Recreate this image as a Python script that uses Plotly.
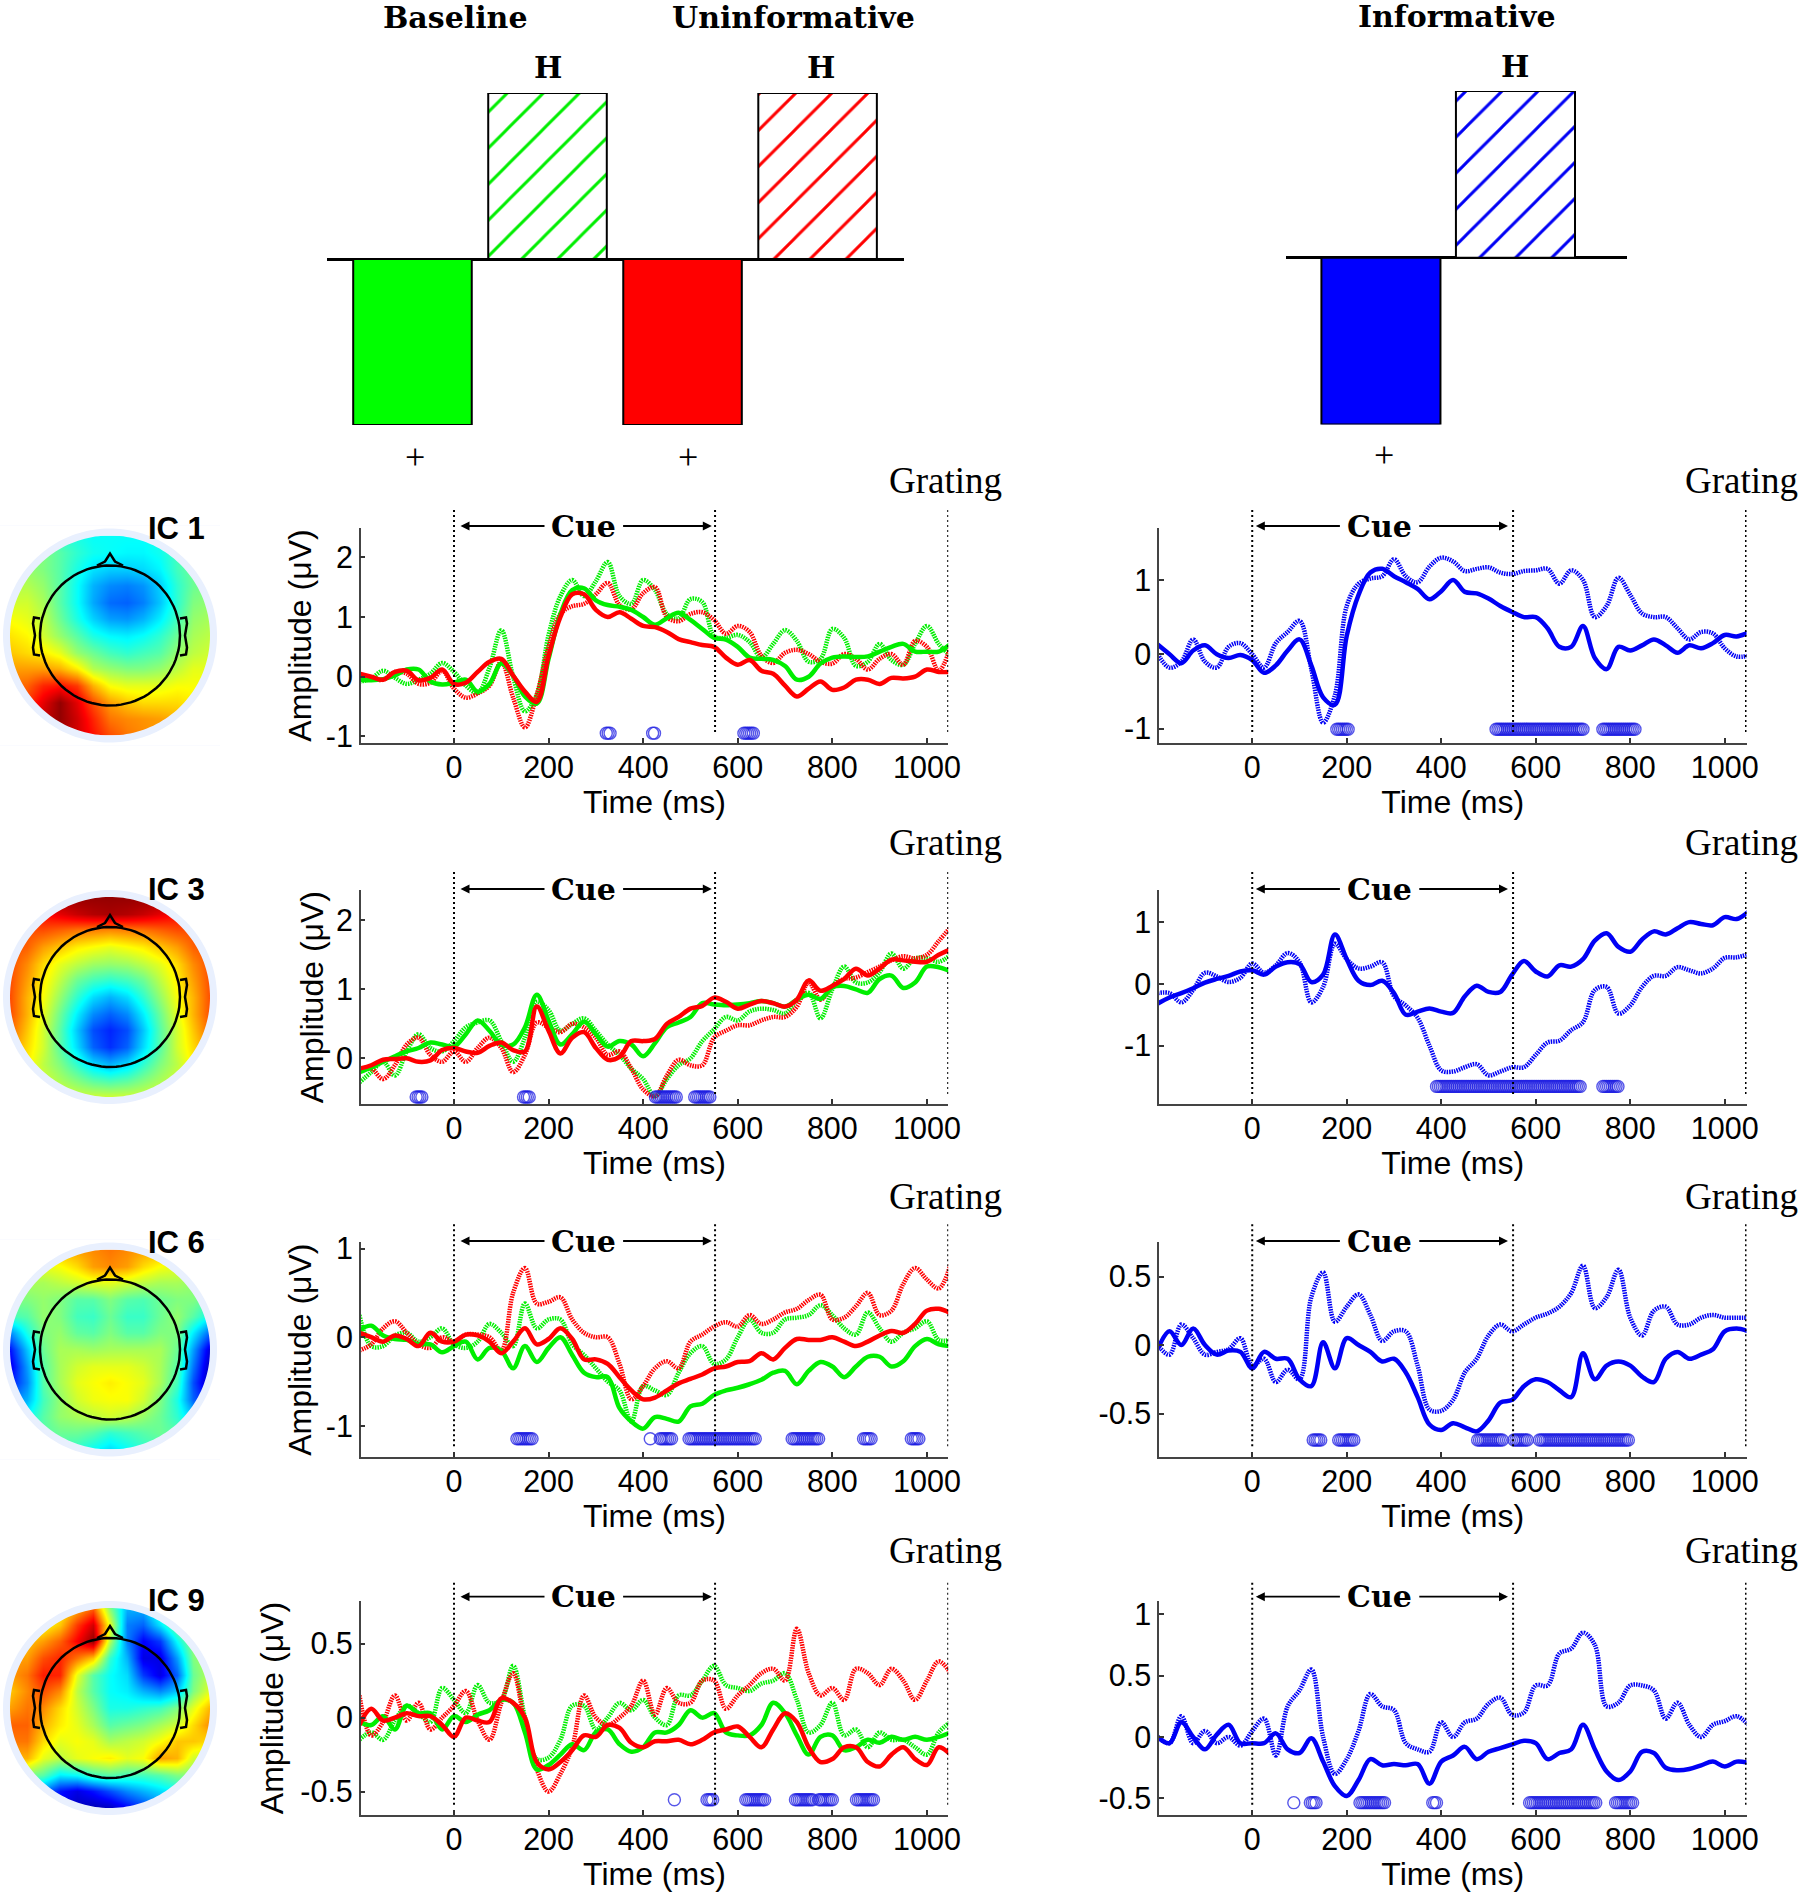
import numpy as np
import plotly.graph_objects as go

W, H = 1799, 1895

TIME = [-200, -175, -150, -125, -100, -75, -50, -25, 0, 25, 50, 75, 100, 125, 150, 175, 200, 225, 250, 275, 300, 325,
        350, 375, 400, 425, 450, 475, 500, 525, 550, 575, 600, 625, 650, 675, 700, 725, 750, 775, 800, 825, 850, 875,
        900, 925, 950, 975, 1000, 1025, 1050]

# --- IC 1 ---
IC1_GREEN = [-.05, -.06, -.04, .02, .12, .12, -.08, -.13, -.1, -.05, -.25, -.12, .22, .02, -.33, -.45, .3, 1.05, 1.45,
             1.48, 1.28, 1.2, 1.17, 1.12, 1.0, .87, .98, 1.07, .95, .8, .65, .62, .5, .32, .3, .28, .18, -.05, 0, .22,
             .32, .34, .33, .34, .42, .5, .55, .42, .42, .42, .55]
IC1_GREEN_DOT = [-.08, -.03, .1, -.02, -.12, -.05, .05, .23, .08, -.15, -.27, .15, .78, 0, -.58, -.3, .7, 1.35, 1.62,
                 1.35, 1.6, 1.92, 1.35, 1.22, 1.62, 1.45, 1.05, .98, 1.3, 1.25, .68, .65, .7, .58, .32, .55, .78, .6,
                 .25, .3, .8, .65, .18, .25, .55, .28, .2, .55, .85, .55, .35]
IC1_RED = [.05, 0, -.05, .08, .1, -.06, -.02, .12, -.12, -.1, .08, .25, .3, .02, -.25, -.42, .35, 1.0, 1.38, 1.38, 1.12,
           1.0, 1.08, .97, .85, .83, .75, .63, .58, .53, .5, .32, .2, .28, .1, .05, -.15, -.33, -.2, -.08, -.22, -.18,
           -.05, -.05, -.12, -.02, -.03, 0, .12, .08, .08]
IC1_RED_DOT = [0, -.03, -.05, .08, .05, -.12, -.1, .1, -.2, -.35, -.28, -.15, .25, -.35, -.85, -.3, .5, 1.05, 1.18, 1.22,
               1.38, 1.57, 1.2, 1.13, 1.4, 1.5, 1.0, .93, 1.05, 1.08, .95, .72, .85, .75, .35, .23, .4, .45, .38, .25,
               .22, .38, .3, .12, .3, .38, .2, .6, .5, .1, .5]
IC1_BLUE = [.13, 0, -.12, .05, .12, 0, -.05, -.01, -.08, -.25, -.15, .05, .2, -.15, -.58, -.68, .25, .8, 1.1, 1.15, 1.05,
            .97, .88, .74, .85, 1.0, .84, .82, .75, .65, .57, .5, .5, .35, .1, .1, .38, -.05, -.2, .1, .05, .12, .2,
            .12, .02, .12, .08, .15, .26, .24, .29]
IC1_BLUE_DOT = [0, -.18, -.1, .2, -.1, -.18, .1, .15, 0, -.18, .15, .3, .45, -.2, -.92, -.55, .65, .95, 1.02, 1.05, 1.28,
                1.05, .97, 1.18, 1.3, 1.25, 1.12, 1.15, 1.17, 1.1, 1.08, 1.12, 1.13, 1.15, .95, 1.13, 1.0, .5, .65,
                1.03, .8, .55, .5, .5, .35, .2, .3, .28, .08, -.03, -.02]

# --- IC 3 ---
IC3_GREEN = [-.2, -.13, -.05, .03, .1, .15, .23, .2, .17, .35, .55, .4, .2, .2, .45, .92, .55, .2, .35, .53, .35, .17,
             .25, .2, .03, .22, .45, .52, .6, .8, .78, .77, .78, .8, .83, .8, .75, .85, .92, .86, 1.03, 1.05, 1.0, .95,
             1.15, 1.2, 1.02, 1.1, 1.33, 1.32, 1.26]
IC3_GREEN_DOT = [-.35, -.2, -.05, -.25, .1, .35, .15, .1, .25, .45, .52, .55, .25, -.05, .3, .82, .7, .4, .5, .58, .4,
                 .2, .05, -.15, -.3, -.55, -.3, -.1, 0, .25, .42, .6, .55, .68, .72, .7, .65, .85, .95, .58, 1.0, 1.33,
                 1.1, 1.1, 1.25, 1.52, 1.3, 1.45, 1.45, 1.4, 1.5]
IC3_RED = [-.15, -.1, -.02, -.01, 0, -.05, -.03, .12, .15, .1, .08, .18, .23, .12, .1, .75, .4, .07, .3, .38, .15, -.02,
           .02, .25, .25, .28, .5, .6, .72, .76, .88, .82, .72, .78, .83, .8, .75, .85, 1.13, .98, 1.05, 1.15, 1.3, 1.2,
           1.3, 1.43, 1.42, 1.4, 1.4, 1.5, 1.58]
IC3_RED_DOT = [-.18, -.15, -.3, -.1, .2, .3, .05, -.05, .1, -.05, .15, .3, .15, -.2, .05, .52, .45, .38, .5, .45, .3,
               .05, .1, -.15, -.45, -.55, -.25, -.02, -.1, -.1, .3, .4, .48, .48, .55, .6, .6, .75, 1.1, .85, 1.05, 1.15,
               1.17, 1.25, 1.33, 1.42, 1.48, 1.45, 1.5, 1.7, 1.9]
IC3_BLUE = [-.32, -.22, -.15, -.07, .02, .08, .13, .2, .22, .15, .28, .35, .32, .03, .15, .8, .4, .05, -.02, .05, -.15,
            -.5, -.45, -.4, -.45, -.47, -.2, -.03, -.13, -.13, .15, .37, .2, .12, .3, .28, .4, .7, .82, .6, .52, .72, .85,
            .8, .9, 1.0, .97, .95, 1.08, 1.05, 1.17]
IC3_BLUE_DOT = [-.15, -.15, -.3, -.1, .18, .12, .03, .1, .33, .18, .3, .5, .35, -.3, -.05, .65, .4, .25, .28, .35, -.2,
                -.35, -.55, -1.0, -1.4, -1.42, -1.35, -1.3, -1.48, -1.42, -1.35, -1.35, -1.15, -.95, -.92, -.75, -.62,
                -.1, -.05, -.48, -.35, -.05, .13, .13, .27, .22, .17, .25, .42, .43, .48]

# --- IC 6 ---
IC6_GREEN = [.08, .13, .02, -.02, -.03, -.08, -.08, -.17, -.1, -.05, -.25, -.12, -.15, -.35, -.1, -.28, -.12, 0, -.2,
             -.4, -.45, -.45, -.8, -.95, -1.03, -.9, -.92, -.95, -.78, -.75, -.65, -.6, -.57, -.53, -.48, -.4, -.38,
             -.53, -.38, -.28, -.33, -.45, -.33, -.22, -.22, -.33, -.27, -.1, -.02, -.08, -.1]
IC6_GREEN_DOT = [.25, -.1, -.1, .02, .05, -.05, 0, .1, -.08, -.12, -.05, .15, .05, -.1, .38, .1, .2, .2, -.08, -.2, -.35,
                 -.5, -.6, -.95, -.55, -.6, -.65, -.4, -.18, -.1, -.3, -.25, 0, .2, .05, .05, .2, .22, .25, .36, .25, .1,
                 .03, .28, .1, -.05, .05, .1, .18, -.03, -.03]
IC6_RED = [.05, 0, -.05, .02, -.02, -.1, .05, -.05, -.05, .03, .02, -.05, -.18, -.05, .1, -.08, -.02, .1, -.02, -.25,
           -.25, -.3, -.45, -.6, -.7, -.68, -.6, -.52, -.47, -.42, -.35, -.33, -.28, -.27, -.18, -.25, -.12, -.02, -.03,
           -.03, 0, -.05, -.1, -.05, .02, .07, .05, .15, .3, .32, .27]
IC6_RED_DOT = [-.15, -.08, .1, .18, .05, -.08, -.12, 0, -.05, .03, .03, 0, -.15, .5, .78, .38, .4, .45, .2, .05, 0, 0,
               -.3, -.7, -.55, -.35, -.27, -.35, -.05, .03, .12, .17, .12, .25, .15, .2, .28, .32, .42, .48, .2, .22,
               .35, .5, .25, .3, .6, .78, .65, .55, .82]
IC6_BLUE = [-.03, .1, 0, .12, 0, -.07, -.04, -.05, -.17, -.05, -.1, -.1, -.25, -.3, .02, -.17, .05, 0, -.05, -.12, -.1,
            -.2, -.38, -.58, -.62, -.57, -.6, -.63, -.55, -.42, -.4, -.3, -.25, -.27, -.33, -.38, -.06, -.25, -.15, -.12,
            -.15, -.23, -.27, -.1, -.05, -.1, -.07, -.03, .1, .12, .1]
IC6_BLUE_DOT = [0, -.07, .15, .05, -.07, -.05, -.03, .05, -.15, -.1, -.27, -.18, -.25, .35, .53, .17, .28, .37, .22, .03,
                .1, .1, -.15, -.47, -.48, -.4, -.2, -.1, .07, .15, .1, .15, .2, .23, .28, .38, .58, .27, .35, .55, .2,
                .07, .25, .28, .15, .15, .2, .22, .2, .2, .2]

# --- IC 9 ---
IC9_GREEN = [-.03, -.05, .01, -.08, .08, .03, .03, -.08, .01, -.03, .02, .05, .12, .1, -.1, -.35, -.32, -.25, -.18, -.22,
             -.1, -.08, -.18, -.23, -.2, -.1, -.1, -.05, .05, 0, .03, -.1, -.12, -.12, -.05, .1, .03, -.12, -.25, -.13,
             -.12, -.22, -.2, -.15, -.17, -.13, -.15, -.13, -.15, -.13, -.1]
IC9_GREEN_DOT = [-.15, -.1, -.15, -.02, .08, .03, -.03, .2, .12, .03, .22, .1, .12, .35, 0, -.28, -.27, -.15, .08, .08,
                 -.08, 0, .1, .05, .12, 0, -.05, .15, .15, .25, .35, .22, .2, .18, .23, .25, .3, .12, -.1, -.05, .1, -.12,
                 -.08, -.2, -.1, -.15, -.15, -.2, -.25, -.1, -.03]
IC9_RED = [-.05, .06, -.02, 0, .03, .01, .01, -.05, -.13, 0, -.02, -.03, .13, .1, 0, -.3, -.35, -.3, -.22, -.12, -.13,
           -.05, -.07, -.17, -.2, -.16, -.16, -.15, -.18, -.15, -.1, -.08, -.06, -.13, -.2, -.08, .03, -.03, -.2, -.3,
           -.28, -.2, -.2, -.3, -.33, -.25, -.2, -.28, -.32, -.2, -.25]
IC9_RED_DOT = [.15, -.12, -.03, .15, -.02, .1, -.08, 0, .08, .18, -.02, -.15, .1, .3, -.05, -.35, -.5, -.38, -.2, .15, 0,
               -.05, 0, .08, .25, .02, .2, .1, .1, .25, .25, .06, .15, .22, .3, .33, .25, .6, .3, .15, .2, .12, .33, .3,
               .22, .33, .25, .12, .25, .38, .3]
IC9_BLUE = [0, -.05, .12, 0, -.1, .02, .1, -.05, -.05, -.05, .03, -.1, -.13, -.01, -.2, -.4, -.48, -.35, -.18, -.23,
            -.22, -.23, -.22, -.38, -.2, -.15, -.08, -.18, -.12, -.09, -.06, -.03, -.05, -.18, -.13, -.1, .1, -.1, -.28,
            -.35, -.28, -.12, -.13, -.25, -.27, -.26, -.23, -.2, -.24, -.2, -.21]
IC9_BLUE_DOT = [0, -.05, .17, -.05, .05, -.05, 0, -.07, .05, .15, -.15, .25, .38, .55, 0, -.3, -.18, .05, .35, .25, .22,
                -.05, -.1, -.12, .12, 0, .12, .15, .27, .32, .18, .2, .42, .42, .68, .72, .85, .75, .25, .28, .42, .42,
                .38, .15, .28, .1, 0, .1, .13, .17, .1]

# significant intervals (start, end in ms), samples every 4 ms
IC1_SIG_LEFT = [(322, 332), (420, 425), (613, 633)]
IC1_SIG_RIGHT = [(179, 204), (516, 700), (742, 813)]
IC3_SIG_LEFT = [(-80, -68), (147, 161), (426, 473), (509, 541)]
IC3_SIG_RIGHT = [(390, 695), (742, 775)]
IC6_SIG_LEFT = [(133, 165), (415, 415), (436, 462), (497, 640), (715, 772), (866, 885), (967, 983)]
IC6_SIG_RIGHT = [(129, 148), (183, 218), (477, 529), (554, 582), (608, 797)]
IC9_SIG_LEFT = [(466, 466), (535, 549), (617, 658), (722, 758), (772, 803), (851, 889)]
IC9_SIG_RIGHT = [(88, 88), (123, 138), (228, 280), (382, 390), (587, 729), (769, 805)]

# topographies, top row first
GRID = [-1, -.83, -.67, -.5, -.33, -.17, 0, .17, .33, .5, .67, .83, 1]
IC1_MAP = [[.46, .46, .45, .42, .40, .38, .38, .38, .38, .40, .42, .46, .46],
           [.50, .50, .50, .46, .42, .39, .38, .37, .37, .39, .44, .48, .48],
           [.52, .52, .50, .46, .40, .35, .33, .33, .34, .37, .44, .48, .50],
           [.55, .55, .52, .46, .38, .30, .26, .25, .27, .33, .42, .48, .50],
           [.58, .58, .54, .46, .38, .29, .23, .22, .25, .32, .42, .50, .52],
           [.62, .60, .56, .48, .40, .33, .28, .27, .30, .36, .44, .52, .54],
           [.65, .63, .58, .52, .46, .40, .37, .36, .38, .42, .48, .54, .56],
           [.68, .66, .64, .60, .52, .48, .44, .42, .44, .46, .52, .56, .58],
           [.72, .72, .72, .70, .64, .55, .52, .50, .50, .52, .56, .60, .60],
           [.76, .78, .84, .86, .82, .70, .62, .60, .60, .60, .62, .62, .62],
           [.76, .82, .90, .98, .90, .80, .72, .68, .66, .66, .66, .64, .62],
           [.80, .86, .93, .98, .92, .84, .76, .74, .73, .72, .70, .66, .64],
           [.80, .88, .94, .95, .92, .86, .80, .76, .74, .72, .70, .66, .64]]
IC3_MAP = [[.98, .98, .98, .98, .98, .98, .98, .98, .98, .98, .98, .98, .98],
           [.85, .85, .87, .90, .93, .95, .96, .95, .93, .90, .87, .85, .85],
           [.80, .80, .80, .78, .76, .75, .74, .75, .76, .78, .80, .80, .80],
           [.80, .78, .72, .68, .64, .62, .60, .62, .64, .68, .72, .78, .80],
           [.80, .74, .66, .60, .56, .53, .52, .53, .56, .60, .66, .74, .80],
           [.80, .72, .64, .56, .48, .44, .42, .44, .48, .56, .64, .72, .80],
           [.80, .70, .62, .52, .42, .34, .30, .34, .42, .52, .62, .70, .80],
           [.80, .70, .60, .48, .36, .26, .22, .26, .36, .48, .60, .70, .80],
           [.78, .68, .58, .46, .32, .20, .16, .20, .32, .46, .58, .68, .78],
           [.74, .66, .58, .46, .34, .22, .17, .22, .34, .46, .58, .66, .74],
           [.70, .64, .56, .50, .42, .34, .30, .34, .42, .50, .56, .64, .70],
           [.66, .62, .58, .54, .50, .46, .44, .46, .50, .54, .58, .62, .66],
           [.64, .64, .62, .60, .58, .58, .58, .58, .58, .60, .62, .64, .64]]
IC6_MAP = [[.70, .70, .70, .70, .72, .74, .76, .74, .72, .70, .70, .70, .70],
           [.60, .60, .60, .62, .66, .72, .74, .72, .66, .62, .60, .60, .60],
           [.54, .54, .54, .56, .58, .60, .60, .58, .56, .54, .54, .52, .52],
           [.50, .50, .52, .50, .46, .46, .50, .46, .45, .48, .50, .50, .46],
           [.44, .46, .52, .50, .44, .43, .48, .43, .43, .48, .52, .46, .38],
           [.26, .40, .50, .52, .47, .46, .50, .46, .46, .50, .50, .36, .22],
           [.14, .32, .48, .54, .54, .53, .54, .54, .54, .54, .48, .28, .08],
           [.10, .28, .46, .54, .58, .60, .60, .60, .58, .54, .46, .24, .05],
           [.14, .26, .46, .54, .60, .62, .64, .62, .60, .54, .44, .20, .04],
           [.24, .30, .44, .52, .58, .61, .62, .62, .58, .50, .40, .22, .12],
           [.32, .38, .46, .52, .54, .56, .58, .56, .52, .48, .42, .32, .26],
           [.38, .42, .46, .48, .48, .46, .42, .44, .46, .48, .46, .40, .36],
           [.44, .44, .44, .44, .42, .38, .34, .38, .42, .44, .44, .44, .44]]
IC9_MAP = [[.55, .55, .58, .62, .70, .78, .50, .30, .30, .45, .55, .60, .60],
           [.62, .62, .62, .68, .82, .92, .60, .25, .22, .35, .50, .58, .60],
           [.68, .68, .72, .78, .88, .98, .55, .25, .12, .18, .38, .52, .58],
           [.72, .72, .80, .84, .76, .68, .42, .30, .10, .10, .28, .50, .56],
           [.72, .76, .85, .84, .60, .46, .38, .34, .18, .10, .22, .48, .56],
           [.68, .74, .80, .74, .56, .46, .38, .36, .30, .26, .32, .50, .60],
           [.72, .76, .74, .66, .58, .50, .40, .40, .42, .44, .50, .60, .70],
           [.78, .78, .70, .64, .60, .54, .46, .48, .50, .54, .58, .66, .74],
           [.76, .76, .66, .60, .62, .60, .54, .56, .58, .62, .68, .68, .66],
           [.70, .70, .60, .56, .60, .62, .64, .60, .62, .72, .70, .58, .56],
           [.52, .50, .46, .36, .38, .44, .46, .44, .44, .46, .50, .50, .50],
           [.40, .36, .25, .14, .10, .14, .20, .26, .30, .34, .38, .42, .42],
           [.30, .28, .18, .10, .06, .05, .06, .12, .18, .25, .30, .34, .34]]

# bars of the task diagram
TOP_BARS = [-1, 1, -1, 1]
TOP_BAR_X = [0, 1, 2, 3]
SIDE_BARS = [-1, 1]
SIDE_BAR_X = [0, 1]

# one entry per IC row
ROWS = [
    dict(name="IC 1", top=528, bottom=743, label_y=528, grating_y=480, arrow_y=526, marker_l=-.945, marker_r=-1.01,
         range_l=[-1.11, 2.49], range_r=[-1.195, 1.70], ticks_l=[-1, 0, 1, 2], ticks_r=[-1, 0, 1], standoff=5,
         green=IC1_GREEN, green_dot=IC1_GREEN_DOT, red=IC1_RED, red_dot=IC1_RED_DOT, blue=IC1_BLUE, blue_dot=IC1_BLUE_DOT,
         sig_l=IC1_SIG_LEFT, sig_r=IC1_SIG_RIGHT, topo=IC1_MAP, tcy=635.5),
    dict(name="IC 3", top=890, bottom=1104.3, label_y=890, grating_y=842.7, arrow_y=889, marker_l=-.56, marker_r=-1.66,
         range_l=[-.666, 2.44], range_r=[-1.95, 1.52], ticks_l=[0, 1, 2], ticks_r=[-1, 0, 1], standoff=3,
         green=IC3_GREEN, green_dot=IC3_GREEN_DOT, red=IC3_RED, red_dot=IC3_RED_DOT, blue=IC3_BLUE, blue_dot=IC3_BLUE_DOT,
         sig_l=IC3_SIG_LEFT, sig_r=IC3_SIG_RIGHT, topo=IC3_MAP, tcy=997),
    dict(name="IC 6", top=1242.3, bottom=1457, label_y=1242.7, grating_y=1196, arrow_y=1241, marker_l=-1.145, marker_r=-.693,
         range_l=[-1.35, 1.07], range_r=[-.817, .75], ticks_l=[-1, 0, 1], ticks_r=[-.5, 0, .5], standoff=5,
         green=IC6_GREEN, green_dot=IC6_GREEN_DOT, red=IC6_RED, red_dot=IC6_RED_DOT, blue=IC6_BLUE, blue_dot=IC6_BLUE_DOT,
         sig_l=IC6_SIG_LEFT, sig_r=IC6_SIG_RIGHT, topo=IC6_MAP, tcy=1349.5),
    dict(name="IC 9", top=1600.7, bottom=1815.3, label_y=1600.7, grating_y=1550, arrow_y=1596.7, marker_l=-.555, marker_r=-.534,
         range_l=[-.66, .79], range_r=[-.637, 1.11], ticks_l=[-.5, 0, .5], ticks_r=[-.5, 0, .5, 1], standoff=7,
         green=IC9_GREEN, green_dot=IC9_GREEN_DOT, red=IC9_RED, red_dot=IC9_RED_DOT, blue=IC9_BLUE, blue_dot=IC9_BLUE_DOT,
         sig_l=IC9_SIG_LEFT, sig_r=IC9_SIG_RIGHT, topo=IC9_MAP, tcy=1708),
]

GREEN = "#00ee00"
RED = "#ff0000"
BLUE = "#0000f5"
SERIF = "Liberation Serif"
SERIF_BOLD = "DejaVu Serif"
SANS = "Liberation Sans"
TIME_TICKS = [0, 200, 400, 600, 800, 1000]
MATLAB_JET = [[0, "rgb(0,0,128)"], [.125, "rgb(0,0,255)"], [.375, "rgb(0,255,255)"], [.5, "rgb(128,255,128)"],
              [.625, "rgb(255,255,0)"], [.875, "rgb(255,0,0)"], [1, "rgb(128,0,0)"]]


def px(x):
    return x / W


def py(y):
    return 1 - y / H


fig = go.Figure()
# autoexpand off: labels near the page edge must not shrink the plot area
layout = dict(width=W, height=H, margin=dict(l=0, r=0, t=0, b=0, autoexpand=False), paper_bgcolor="white",
              plot_bgcolor="white", showlegend=False, barmode="overlay", font=dict(family=SANS, color="black"))
shapes, notes = [], []
axis_no = [0]


def new_axes(x0, x1, y_top, y_bottom, xaxis, yaxis):
    """Add a pair of axes placed by pixel box; returns the trace refs."""
    axis_no[0] += 1
    n = axis_no[0]
    sx = "" if n == 1 else str(n)
    layout["xaxis" + sx] = dict(domain=[px(x0), px(x1)], anchor="y" + sx, **xaxis)
    layout["yaxis" + sx] = dict(domain=[py(y_bottom), py(y_top)], anchor="x" + sx, **yaxis)
    return "x" + sx, "y" + sx


def note(text, x, y, size, family=SERIF, bold=False, **kw):
    notes.append(dict(text="<b>%s</b>" % text if bold else text, x=px(x), y=py(y), xref="paper", yref="paper",
                      showarrow=False, xanchor="center", yanchor="middle",
                      font=dict(family=family, size=size, color="black"), **kw))


def bar_panel(x0, x1, y_top, y_bottom, xs, values, colors, width, x_range):
    bar_x = dict(visible=False, range=x_range, fixedrange=True)
    bar_y = dict(range=[-1, 1], showticklabels=False, ticks="", showgrid=False, showline=False,
                 zeroline=True, zerolinecolor="black", zerolinewidth=3)
    xa, ya = new_axes(x0, x1, y_top, y_bottom, bar_x, bar_y)
    for x, v, color in zip(xs, values, colors):
        if v < 0:
            marker = dict(color=color.replace("#00ee00", "#00ff00").replace("#0000f5", "#0000ff"),
                          line=dict(color="black", width=2))
        else:
            marker = dict(color="white", line=dict(color="black", width=2),
                          pattern=dict(shape="/", fgcolor=color, fgopacity=1, bgcolor="white", size=25.5, solidity=0.115))
        fig.add_trace(go.Bar(x=[x], y=[v], width=width, xaxis=xa, yaxis=ya, marker=marker))


bar_panel(327, 904, 93, 425, TOP_BAR_X, TOP_BARS, [GREEN, GREEN, RED, RED], 0.878, [-.633, 3.64])
bar_panel(1285.7, 1626.7, 91, 424.4, SIDE_BAR_X, SIDE_BARS, [BLUE, BLUE], 0.885, [-.708, 1.827])

note("Baseline", 454.5, 18, 30, family=SERIF_BOLD, bold=True)
note("Uninformative", 793, 18, 30, family=SERIF_BOLD, bold=True)
note("Informative", 1457, 17, 30, family=SERIF_BOLD, bold=True)
for hx, hy in [(548, 68), (821, 68), (1515, 66)]:
    note("H", hx, hy, 30, family=SERIF_BOLD, bold=True)
for plus_x, plus_y in [(415, 457), (687.5, 457), (1384, 455)]:
    note("+", plus_x, plus_y, 36)


def topo_panel(row):
    # heatmap fills the coloured disc, everything else is masked off
    cx, cy, r = 110, row["tcy"], 100
    hide = dict(visible=False, range=[-1, 1], fixedrange=True)
    xa, ya = new_axes(cx - r, cx + r, cy - r, cy + r, hide, dict(hide, range=[1, -1]))
    fig.add_trace(go.Heatmap(x=GRID, y=GRID, z=row["topo"], colorscale=MATLAB_JET, zmin=0, zmax=1, zsmooth="best",
                             showscale=False, xaxis=xa, yaxis=ya))
    # head outline in the same unit coordinates
    a = np.linspace(0, 2 * np.pi, 90)
    line = dict(color="black", width=2.5)
    fig.add_trace(go.Scatter(x=0.7 * np.cos(a), y=0.7 * np.sin(a), mode="lines", line=line, xaxis=xa, yaxis=ya))
    fig.add_trace(go.Scatter(x=[-.13, -.05, 0, .05, .13], y=[-.7, -.74, -.82, -.74, -.7], mode="lines", line=line,
                             xaxis=xa, yaxis=ya))
    for side in (-1, 1):
        fig.add_trace(go.Scatter(x=[side * .7, side * .76, side * .77, side * .75, side * .77, side * .76, side * .7],
                                 y=[-.17, -.18, -.12, 0, .12, .19, .2], mode="lines", line=line, xaxis=xa, yaxis=ya))

    def ring(radius):
        return " ".join(("M" if i == 0 else "L") + "%.5f,%.5f" % (px(cx + radius * np.cos(t)), py(cy + radius * np.sin(t)))
                        for i, t in enumerate(np.linspace(0, 2 * np.pi, 180))) + " Z"

    box = "M%.5f,%.5f L%.5f,%.5f L%.5f,%.5f L%.5f,%.5f Z" % (
        px(cx - 110), py(cy - 110), px(cx + 110), py(cy - 110), px(cx + 110), py(cy + 110), px(cx - 110), py(cy + 110))
    shapes.append(dict(type="path", xref="paper", yref="paper", path=box + " " + ring(100), fillcolor="#e9f0fe",
                       line=dict(width=0), fillrule="evenodd", layer="above"))
    shapes.append(dict(type="path", xref="paper", yref="paper", path=box + " " + ring(107), fillcolor="white",
                       line=dict(width=0), fillrule="evenodd", layer="above"))
    note(row["name"], 176, row["label_y"], 31, family=SANS, bold=True)


def erp_panel(row, x0, x1, y_range, y_ticks, series, sig, sig_y, grating_x, cue_x, head_l, head_r, tail_l, tail_r, x_range,
              ylabel):
    xax = dict(range=x_range, tickvals=TIME_TICKS, ticks="inside", ticklen=5, tickwidth=1.5, tickcolor="#333",
               ticklabelstandoff=-4, showline=True, linecolor="#444", linewidth=2, showgrid=False, zeroline=False,
               fixedrange=True, tickfont=dict(size=30.5, family=SANS),
               title=dict(text="Time (ms)", font=dict(size=32, family=SANS), standoff=6))
    yax = dict(range=y_range, tickvals=y_ticks, ticktext=[("%g" % v) for v in y_ticks], ticks="inside", ticklen=5, tickwidth=1.5,
               tickcolor="#333", showline=True, linecolor="#444", linewidth=1.5, showgrid=False, zeroline=False,
               fixedrange=True, tickfont=dict(size=30.5, family=SANS))
    if ylabel:
        yax["title"] = dict(text="Amplitude (μV)", font=dict(size=32, family=SANS), standoff=row["standoff"])
    xa, ya = new_axes(x0, x1, row["top"], row["bottom"], xax, yax)
    for values, color, dotted in series:
        style = dict(color=color, width=4.5, shape="spline", smoothing=1.0)
        if dotted:
            style["dash"] = "1.5px,1px"
        fig.add_trace(go.Scatter(x=TIME, y=values, mode="lines", line=style, xaxis=xa, yaxis=ya))
    # significance circles
    t = []
    for start, end in sig:
        t.extend(range(start, end + 1, 4))
    fig.add_trace(go.Scatter(x=t, y=[sig_y] * len(t), mode="markers", xaxis=xa, yaxis=ya, cliponaxis=False, marker=dict(
        symbol="circle-open", size=12, color="rgba(30,30,225,0.75)", line=dict(width=1.4))))
    # stimulus onset / offset markers
    for v in (0, 552, 1045):
        shapes.append(dict(type="line", xref=xa, yref="paper", x0=v, x1=v, y0=py(row["top"] - 18), y1=py(row["bottom"] - 10),
                           line=dict(color="black", width=2, dash="2px,3px"), layer="above"))
    note("Cue", cue_x, row["arrow_y"], 30, family=SERIF_BOLD, bold=True)
    note("Grating", grating_x, row["grating_y"], 37)
    for head, tail in ((head_l, tail_l), (head_r, tail_r)):
        notes.append(dict(x=px(head), y=py(row["arrow_y"]), xref="paper", yref="paper", text="", showarrow=True,
                          ax=tail - head, ay=0, arrowhead=2, arrowsize=1, arrowwidth=1.8, arrowcolor="black"))


for row in ROWS:
    topo_panel(row)
    left = [(row["green_dot"], GREEN, True), (row["red_dot"], RED, True), (row["green"], GREEN, False), (row["red"], RED, False)]
    erp_panel(row, 360.7, 948.2, row["range_l"], row["ticks_l"], left, row["sig_l"], row["marker_l"], 945, 583.5,
              460.5, 711.8, 546, 621.6, [-197.3, 1045], True)
    right = [(row["blue_dot"], BLUE, True), (row["blue"], BLUE, False)]
    erp_panel(row, 1159, 1746.5, row["range_r"], row["ticks_r"], right, row["sig_r"], row["marker_r"], 1741, 1379,
              1255.8, 1508, 1341.4, 1417.8, [-197.3, 1046], False)

layout["shapes"] = shapes
layout["annotations"] = notes
fig.update_layout(**layout)
# pin the graph to the page corner so pixel positions hold
pin = ("document.body.style.margin='0';var gd=document.getElementById('{plot_id}');"
       "gd.style.position='absolute';gd.style.left='0';gd.style.top='0';")
fig.write_html("out.html", config=dict(displayModeBar=False), post_script=pin)
